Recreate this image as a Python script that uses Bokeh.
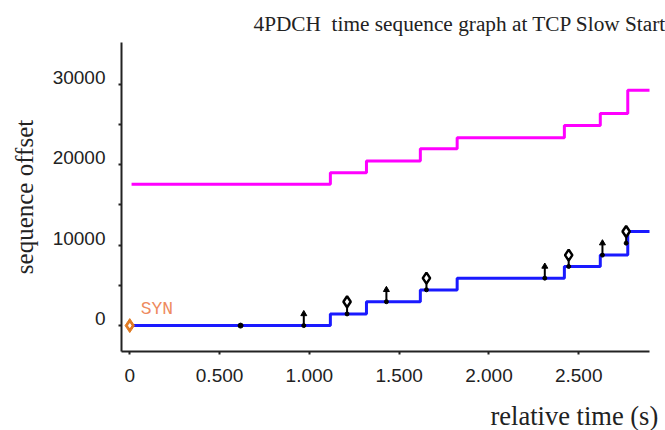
from bokeh.plotting import figure
from bokeh.models import Range1d, FixedTicker, Label, ColumnDataSource, Title, LinearAxis
from bokeh.embed import file_html
from bokeh.resources import INLINE

# ---- data ----
# receiver window edge (magenta step line)
win_t = [0.01, 1.117, 1.318, 1.618, 1.823, 2.420, 2.620, 2.773, 2.90]
win_y = [17560, 19010, 20450, 21980, 23350, 24870, 26360, 29240, 29240]

# ack line (blue step line)
ack_t = [0.01, 1.117, 1.318, 1.618, 1.823, 2.420, 2.620, 2.773, 2.90]
ack_y = [0, 1450, 2970, 4420, 5870, 7360, 8760, 11700, 11700]

# data segments (vertical arrows)
seg_t = [0.969, 1.210, 1.429, 1.652, 2.311, 2.444, 2.632, 2.764]
seg_lo = [0, 1450, 2970, 4450, 5900, 7350, 8760, 10250]
seg_hi = [1450, 2970, 4450, 5900, 7350, 8760, 10250, 11700]
seg_push = [False, True, False, True, False, True, False, True]

# zero-length segment (dot)
dot_t = [0.617]
dot_y = [0]

# SYN
syn_t = [0.0]
syn_y = [0]
syn_text = "SYN"

x_ticks = [0, 0.5, 1.0, 1.5, 2.0, 2.5]
x_tick_labels = ["0", "0.500", "1.000", "1.500", "2.000", "2.500"]
y_ticks = [0, 10000, 20000, 30000]
y_minor_ticks = [5000, 15000, 25000]

title_text = "4PDCH\u00a0 time sequence graph at TCP Slow Start"
x_label = "relative time (s)"
y_label = "sequence offset"

# ---- figure ----
Y0, Y1 = -3220, 35190
LAB_SHIFT = 870  # y tick labels sit a little above their ticks
p = figure(width=665, height=430, output_backend="svg", toolbar_location=None,
           x_range=Range1d(-0.046, 2.894), y_range=Range1d(Y0, Y1),
           min_border_left=121, min_border_right=16, min_border_top=42, min_border_bottom=78)
p.outline_line_color = None
p.xgrid.visible = False
p.ygrid.visible = False
p.background_fill_color = "white"

p.title.text = title_text
p.title.align = "left"
p.title.offset = 132
p.title.vertical_align = "top"
p.title.text_font = "Liberation Serif"
p.title.text_font_size = "21.3px"
p.title.text_font_style = "normal"
p.title.text_color = "#222222"

axis_col = "#222222"
xax = p.xaxis[0]
yax = p.yaxis[0]
for ax in (xax, yax):
    ax.axis_line_color = axis_col
    ax.axis_line_width = 2
    ax.major_tick_line_color = axis_col
    ax.major_tick_line_width = 2
    ax.minor_tick_line_color = axis_col
    ax.minor_tick_line_width = 2
    ax.major_tick_in = 0
    ax.major_tick_out = 3
    ax.minor_tick_in = 0
    ax.minor_tick_out = 3
    ax.major_label_text_font = "Liberation Sans"
    ax.major_label_text_font_size = "19px"
    ax.major_label_text_color = "#222222"

xax.ticker = FixedTicker(ticks=x_ticks, minor_ticks=[])
xax.major_label_overrides = {float(t): lab for t, lab in zip(x_ticks, x_tick_labels)}
xax.major_label_standoff = 14
# blank axis label, used only as spacing so the x title sits lower
xax.axis_label = "\u00a0"
xax.axis_label_text_font_size = "8px"
xax.axis_label_standoff = 2

# main y axis: line + tick marks only (all as minor ticks, so no labels)
yax.ticker = FixedTicker(ticks=[], minor_ticks=sorted(y_ticks + y_minor_ticks))
yax.major_label_standoff = 0

# label-only y axis, slightly shifted so labels sit above the ticks
p.extra_y_ranges = {"ylab": Range1d(Y0 - LAB_SHIFT, Y1 - LAB_SHIFT)}
lab_ax = LinearAxis(y_range_name="ylab", ticker=FixedTicker(ticks=y_ticks, minor_ticks=[]),
                    axis_line_color=None, major_tick_line_color=None, minor_tick_line_color=None,
                    major_tick_in=0, major_tick_out=0, minor_tick_in=0, minor_tick_out=0,
                    major_label_text_font="Liberation Sans", major_label_text_font_size="19px",
                    major_label_text_color="#222222", major_label_standoff=13,
                    axis_label=y_label, axis_label_text_font="Liberation Serif",
                    axis_label_text_font_size="25px", axis_label_text_font_style="normal",
                    axis_label_text_color="#222222", axis_label_standoff=12)
p.add_layout(lab_ax, "left")

# x axis label at the right end, as a title below the axis
p.add_layout(Title(text=x_label, align="left", offset=369, standoff=0,
                   text_font="Liberation Serif", text_font_size="26.5px",
                   text_font_style="normal", text_color="#222222"), "below")

# step lines
p.step(win_t, win_y, mode="after", line_color="#ff00ff", line_width=3)
p.step(ack_t, ack_y, mode="after", line_color="#1a1aff", line_width=3)

# segments
src = ColumnDataSource(dict(t=seg_t, lo=seg_lo, hi=seg_hi))
p.segment(x0="t", y0="lo", x1="t", y1="hi", source=src, line_color="black", line_width=2)
arrow_t = [t for t, f in zip(seg_t, seg_push) if not f]
arrow_hi = [h for h, f in zip(seg_hi, seg_push) if not f]
p.scatter(arrow_t, arrow_hi, marker="triangle", size=6, fill_color="black", line_color="black")
p.scatter(seg_t, seg_lo, marker="circle", size=4, fill_color="black", line_color="black")
push_t = [t for t, f in zip(seg_t, seg_push) if f]
push_hi = [h for h, f in zip(seg_hi, seg_push) if f]
p.scatter(push_t, push_hi, marker="diamond", size=11, fill_color="white", line_color="black", line_width=2.5)

p.scatter(dot_t, dot_y, marker="circle", size=5, fill_color="black", line_color="black")

# SYN
p.scatter(syn_t, syn_y, marker="diamond", size=14, fill_color="#e07a22", line_color="#e07a22")
p.scatter(syn_t, syn_y, marker="diamond", size=4, fill_color="white", line_color="white")
p.add_layout(Label(x=syn_t[0], y=syn_y[0], text=syn_text, x_offset=11, y_offset=7,
                   text_font="Liberation Mono", text_font_size="18px", text_color="#ee8a5e",
                   text_baseline="bottom", text_align="left"))

open("out.html", "w").write(file_html(p, INLINE))
